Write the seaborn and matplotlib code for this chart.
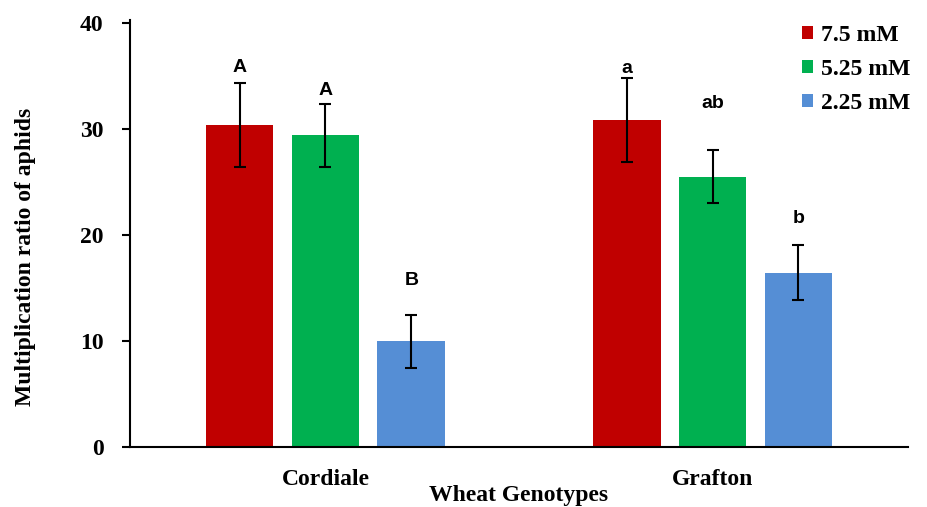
import matplotlib
matplotlib.use("Agg")
import matplotlib.pyplot as plt
import seaborn as sns
import pandas as pd

# Mean multiplication ratio of aphids per wheat genotype and nitrogen level
genotypes = ["Cordiale", "Grafton"]
concentrations = ["7.5 mM", "5.25 mM", "2.25 mM"]
ratio_7_5 = [30.4, 30.85]
ratio_5_25 = [29.4, 25.5]
ratio_2_25 = [10.0, 16.45]
se_7_5 = [4.0, 3.95]
se_5_25 = [3.0, 2.5]
se_2_25 = [2.5, 2.6]
# significance letters (upper case: Cordiale, lower case: Grafton)
letters_7_5 = ["A", "a"]
letters_5_25 = ["A", "ab"]
letters_2_25 = ["B", "b"]
letter_base_7_5 = [35.4, 35.3]
letter_base_5_25 = [33.2, 32.0]
letter_base_2_25 = [15.3, 21.1]

colors = ["#C00000", "#00B050", "#558ED5"]

means = [ratio_7_5, ratio_5_25, ratio_2_25]
errors = [se_7_5, se_5_25, se_2_25]
letters = [letters_7_5, letters_5_25, letters_2_25]
letter_base = [letter_base_7_5, letter_base_5_25, letter_base_2_25]

rows = []
for conc, vals in zip(concentrations, means):
    for g, v in zip(genotypes, vals):
        rows.append({"Genotype": g, "Concentration": conc, "Ratio": v})
df = pd.DataFrame(rows)

sns.set_style("white")
plt.rcParams["font.family"] = ["Liberation Serif", "DejaVu Serif"]
plt.rcParams["font.weight"] = "bold"
for key in ["text.color", "axes.labelcolor", "xtick.color", "ytick.color"]:
    plt.rcParams[key] = "black"

fig = plt.figure(figsize=(9.28, 5.07), dpi=100)
ax = fig.add_axes([130 / 928, 1 - 447 / 507, (908 - 130) / 928, (447 - 20) / 507])

sns.barplot(data=df, x="Genotype", y="Ratio", hue="Concentration",
            hue_order=concentrations, order=genotypes, palette=colors,
            width=0.666, gap=0.21, errorbar=None, saturation=1,
            edgecolor="none", ax=ax)

for container, errs, labs, bases in zip(ax.containers, errors, letters, letter_base):
    xs = [p.get_x() + p.get_width() / 2 for p in container.patches]
    hs = [p.get_height() for p in container.patches]
    ax.errorbar(xs, hs, yerr=errs, fmt="none", ecolor="black",
                elinewidth=1.5, capsize=4.5, capthick=1.5, zorder=3)
    for x, lab, b in zip(xs, labs, bases):
        ax.text(x, b, lab, ha="center", va="baseline", fontsize=14,
                fontweight="bold", color="black",
                family=["Liberation Sans", "DejaVu Sans"])

ax.set_xlim(-0.505, 1.505)
ax.set_ylim(0, 40.3)
ax.set_yticks([0, 10, 20, 30, 40])
ax.set_yticklabels(["0", "10", "20", "30", "40"], fontsize=17, fontweight="bold")
ax.set_xticklabels(genotypes, fontsize=17, fontweight="bold")
ax.tick_params(axis="y", direction="out", length=6, width=1.5, left=True, pad=13)
ax.tick_params(axis="x", length=0, pad=16)

ax.set_ylabel("Multiplication ratio of aphids", fontsize=17, fontweight="bold")
ax.yaxis.set_label_coords(-0.121, 0.445)
ax.set_xlabel("Wheat Genotypes", fontsize=17, fontweight="bold", labelpad=-4)

for side in ["top", "right"]:
    ax.spines[side].set_visible(False)
for side in ["left", "bottom"]:
    ax.spines[side].set_linewidth(1.5)
    ax.spines[side].set_color("black")

handles, labels = ax.get_legend_handles_labels()
ax.legend(handles, labels, loc="upper left",
          bbox_to_anchor=(802 / 928, 1 - 25 / 507), bbox_transform=fig.transFigure,
          frameon=False, borderpad=0, borderaxespad=0, handlelength=0.45,
          handleheight=0.45, handletextpad=0.35, labelspacing=0.55,
          prop={"size": 17, "weight": "bold", "family": "Liberation Serif"})

fig.savefig("out.png", dpi=100)
